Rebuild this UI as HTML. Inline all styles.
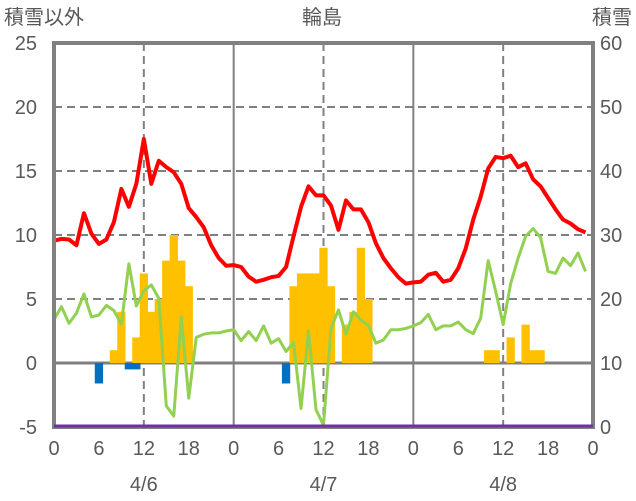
<!DOCTYPE html>
<html><head><meta charset="utf-8"><style>
body{margin:0;background:#fff}
svg{display:block;font-family:"Liberation Sans","Noto Sans CJK JP",sans-serif}
</style></head><body>
<svg id="c" width="636" height="501"></svg>
<script>
const hourTicks=[0,6,12,18,0,6,12,18,0,6,12,18,0];
const dates=["4/6","4/7","4/8"];
const leftTicks=[-5,0,5,10,15,20,25];
const rightTicks=[0,10,20,30,40,50,60];
const redSeries=[9.55,9.7,9.65,9.2,11.7,10.1,9.3,9.65,11.0,13.6,12.2,14.0,17.5,14.0,15.8,15.3,14.9,14.0,12.1,11.4,10.6,9.2,8.2,7.6,
7.65,7.5,6.75,6.35,6.5,6.7,6.8,7.5,9.9,12.2,13.8,13.1,13.1,12.3,10.4,12.7,12.0,12.0,11.0,9.35,8.2,7.4,6.7,6.2,
6.3,6.35,6.9,7.05,6.35,6.5,7.4,8.95,11.2,13.0,15.2,16.1,16.0,16.2,15.3,15.6,14.35,13.8,12.9,12.0,11.2,10.9,10.45,10.2];
const greenSeries=[3.4,4.4,3.1,3.9,5.4,3.6,3.75,4.5,4.1,3.05,7.75,4.45,5.65,6.1,5.05,-3.35,-4.15,3.6,-2.75,2.0,2.25,2.35,2.35,2.5,
2.6,1.75,2.45,1.75,2.9,1.55,1.9,0.9,1.6,-3.55,2.5,-3.65,-4.85,2.7,4.15,2.25,4.0,3.35,2.95,1.55,1.8,2.6,2.6,2.7,
2.9,3.15,3.8,2.6,2.9,2.9,3.2,2.6,2.3,3.5,8.0,5.6,3.0,6.2,8.2,9.9,10.5,9.8,7.15,7.0,8.2,7.6,8.6,7.15];
const snowfallHours=[8,9,11,12,13,14,15,16,17,18,32,33,34,35,36,37,39,40,41,42,58,59,61,63,64,65];
const snowfallValues=[1,4,2,7,4,5,8,10,8,6,6,7,7,7,9,6,3,4,9,5,1,1,2,3,1,1];
const negHours=[6,10,11,31];
const negValues=[-1.6,-0.5,-0.5,-1.6];
const snowDepth=[0,0];
const snowDepthHours=[0,72];

const NS="http://www.w3.org/2000/svg";
const svg=document.getElementById('c');
const X0=54,X1=593,Y0=43,Y1=427;
const x=h=>X0+(X1-X0)*h/72;
const yL=v=>Y1-(v+5)*(Y1-Y0)/30;
const yR=v=>Y1-v*(Y1-Y0)/60;
function mk(t,a,p){const e=document.createElementNS(NS,t);for(const k in a)e.setAttribute(k,a[k]);(p||svg).appendChild(e);return e;}
const txtStyle={fill:"#595959","font-size":"20"};

[5,10,15,20].forEach(v=>{const l=mk('line',{x1:X0,x2:X1,y1:yL(v),y2:yL(v),stroke:'#808080','stroke-width':2,'stroke-dasharray':'8,5'});

});
[12,36,60].forEach(h=>{const l=mk('line',{x1:x(h),x2:x(h),y1:Y0,y2:Y1,stroke:'#808080','stroke-width':2,'stroke-dasharray':'8,5'});

});
[24,48].forEach(h=>{const l=mk('line',{x1:x(h),x2:x(h),y1:Y0,y2:Y1,stroke:'#808080','stroke-width':2});

});
const zl=mk('line',{x1:X0,x2:X1,y1:yL(0),y2:yL(0),stroke:'#808080','stroke-width':3});



snowfallHours.forEach((h,i)=>{const w=x(1)-x(0);const v=snowfallValues[i];
const r=mk('rect',{x:x(h)-w/2-0.4,y:yL(v),width:w+0.8,height:yL(0)-yL(v),fill:'#FFC000'});

});
negHours.forEach((h,i)=>{const w=x(1)-x(0);const v=negValues[i];
const r=mk('rect',{x:x(h)-w/2-0.4,y:yL(0),width:w+0.8,height:yL(v)-yL(0),fill:'#0070C0'});

});

const g=mk('polyline',{points:greenSeries.map((v,i)=>x(i)+','+yL(v)).join(' '),fill:'none',stroke:'#92D050','stroke-width':3,'stroke-linejoin':'round'});


const r=mk('polyline',{points:redSeries.map((v,i)=>x(i)+','+yL(v)).join(' '),fill:'none',stroke:'#FF0000','stroke-width':4,'stroke-linejoin':'round'});



const fr=mk('rect',{x:X0,y:Y0,width:X1-X0,height:Y1-Y0,fill:'none',stroke:'#808080','stroke-width':4});


const sd=mk('polyline',{points:snowDepth.map((v,i)=>x(snowDepthHours[i])+','+(yR(v)-1)).join(' '),fill:'none',stroke:'#7030A0','stroke-width':3});



leftTicks.forEach(v=>{const t=mk('text',Object.assign({x:37,y:yL(v)+7,'text-anchor':'end'},txtStyle));t.textContent=v;

});
rightTicks.forEach(v=>{const t=mk('text',Object.assign({x:600,y:yR(v)+7,'text-anchor':'start'},txtStyle));t.textContent=v;

});
hourTicks.forEach((v,i)=>{const t=mk('text',Object.assign({x:x(i*6),y:455,'text-anchor':'middle'},txtStyle));t.textContent=v;

});
dates.forEach((d,i)=>{const t=mk('text',Object.assign({x:x(12+24*i),y:491,'text-anchor':'middle'},txtStyle));t.textContent=d;

});
[["積雪以外",4,'start','left-axis-title'],["輪島",322,'middle','chart-title'],["積雪",632,'end','right-axis-title']].forEach(a=>{
const t=mk('text',Object.assign({x:a[1],y:24,'text-anchor':a[2]},txtStyle));t.textContent=a[0];

});
</script>
</body></html>
